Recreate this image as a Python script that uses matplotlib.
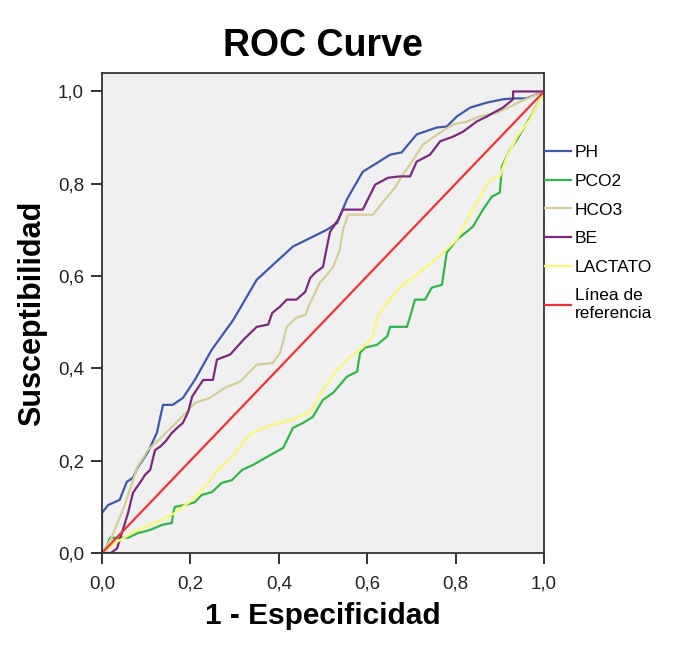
import matplotlib
matplotlib.use("Agg")
from matplotlib import pyplot as plt

# ROC points (1 - specificity, sensitivity)
ph_x = [0.0, 0.0, 0.014, 0.04, 0.056, 0.07, 0.08, 0.104, 0.124, 0.138, 0.16, 0.183, 0.21,
        0.248, 0.297, 0.35, 0.432, 0.508, 0.532, 0.554, 0.59, 0.652, 0.678, 0.712, 0.758,
        0.78, 0.803, 0.833, 0.871, 0.907, 0.93, 0.96, 1.0]
ph_y = [0.0, 0.087, 0.104, 0.115, 0.154, 0.163, 0.184, 0.219, 0.26, 0.321, 0.321, 0.336, 0.375,
        0.44, 0.505, 0.592, 0.664, 0.70, 0.715, 0.766, 0.826, 0.863, 0.868, 0.907, 0.922,
        0.924, 0.946, 0.965, 0.976, 0.983, 0.985, 0.985, 1.0]

pco2_x = [0.0, 0.007, 0.018, 0.059, 0.081, 0.109, 0.136, 0.158, 0.161, 0.165, 0.188, 0.21,
          0.226, 0.249, 0.271, 0.294, 0.317, 0.342, 0.373, 0.41, 0.432, 0.455, 0.477, 0.5,
          0.523, 0.554, 0.577, 0.584, 0.595, 0.622, 0.645, 0.652, 0.69, 0.697, 0.708, 0.731,
          0.746, 0.769, 0.78, 0.803, 0.839, 0.862, 0.882, 0.9, 0.905, 0.923, 0.939, 0.962,
          0.975, 1.0]
pco2_y = [0.0, 0.007, 0.033, 0.033, 0.043, 0.05, 0.061, 0.065, 0.087, 0.1, 0.104, 0.11,
          0.126, 0.132, 0.152, 0.158, 0.18, 0.191, 0.208, 0.228, 0.271, 0.282, 0.295, 0.332,
          0.347, 0.382, 0.393, 0.434, 0.445, 0.451, 0.469, 0.49, 0.49, 0.512, 0.549, 0.549,
          0.575, 0.581, 0.651, 0.679, 0.707, 0.744, 0.772, 0.781, 0.838, 0.874, 0.896, 0.933,
          0.954, 1.0]

hco3_x = [0.0, 0.02, 0.05, 0.08, 0.104, 0.136, 0.181, 0.21, 0.244, 0.278, 0.312, 0.35,
          0.387, 0.403, 0.418, 0.44, 0.46, 0.471, 0.493, 0.509, 0.523, 0.538, 0.545, 0.557,
          0.584, 0.613, 0.636, 0.663, 0.681, 0.704, 0.726, 0.765, 0.794, 0.826, 0.855, 0.894,
          0.923, 0.946, 1.0]
hco3_y = [0.0, 0.03, 0.1, 0.186, 0.223, 0.252, 0.295, 0.325, 0.336, 0.358, 0.371, 0.408,
          0.412, 0.434, 0.49, 0.51, 0.516, 0.542, 0.586, 0.603, 0.62, 0.657, 0.7, 0.733,
          0.733, 0.733, 0.761, 0.792, 0.82, 0.852, 0.885, 0.911, 0.928, 0.935, 0.946, 0.954,
          0.967, 0.978, 1.0]

be_x = [0.0, 0.02, 0.034, 0.052, 0.059, 0.07, 0.079, 0.09, 0.097, 0.109, 0.12, 0.131, 0.143,
        0.158, 0.17, 0.183, 0.195, 0.204, 0.229, 0.251, 0.26, 0.29, 0.32, 0.35, 0.376, 0.385,
        0.403, 0.418, 0.44, 0.46, 0.471, 0.482, 0.5, 0.509, 0.516, 0.534, 0.545, 0.59, 0.618,
        0.647, 0.674, 0.697, 0.712, 0.742, 0.765, 0.794, 0.817, 0.848, 0.871, 0.907, 0.93,
        0.93, 0.984, 1.0]
be_y = [0.0, 0.0, 0.01, 0.065, 0.087, 0.13, 0.143, 0.158, 0.169, 0.18, 0.223, 0.23, 0.241,
        0.26, 0.271, 0.282, 0.306, 0.339, 0.375, 0.375, 0.419, 0.43, 0.462, 0.49, 0.495, 0.52,
        0.534, 0.549, 0.549, 0.566, 0.596, 0.607, 0.62, 0.664, 0.696, 0.722, 0.744, 0.744,
        0.798, 0.813, 0.816, 0.816, 0.848, 0.863, 0.892, 0.902, 0.913, 0.935, 0.946, 0.965,
        0.983, 1.0, 1.0, 1.0]

lact_x = [0.0, 0.03, 0.081, 0.136, 0.165, 0.204, 0.233, 0.262, 0.294, 0.324, 0.342, 0.387,
          0.432, 0.471, 0.5, 0.532, 0.561, 0.59, 0.613, 0.622, 0.645, 0.674, 0.697, 0.735,
          0.772, 0.803, 0.826, 0.848, 0.878, 0.9, 0.916, 0.939, 0.968, 1.0]
lact_y = [0.0, 0.022, 0.05, 0.072, 0.087, 0.115, 0.143, 0.18, 0.208, 0.245, 0.262, 0.278,
          0.289, 0.306, 0.354, 0.397, 0.425, 0.445, 0.469, 0.51, 0.542, 0.575, 0.592, 0.62,
          0.651, 0.679, 0.722, 0.759, 0.809, 0.816, 0.859, 0.902, 0.939, 1.0]

ref_x = [0.0, 1.0]
ref_y = [0.0, 1.0]

series = [
    ("PH", ph_x, ph_y, "#3E58AC"),
    ("PCO2", pco2_x, pco2_y, "#2EB848"),
    ("HCO3", hco3_x, hco3_y, "#D3CE97"),
    ("BE", be_x, be_y, "#7C287D"),
    ("LACTATO", lact_x, lact_y, "#FBF873"),
    ("Línea de\nreferencia", ref_x, ref_y, "#EF3338"),
]
tick_values = [0.0, 0.2, 0.4, 0.6, 0.8, 1.0]
tick_labels = ["0,0", "0,2", "0,4", "0,6", "0,8", "1,0"]

plt.rcParams["font.family"] = ["Liberation Sans", "DejaVu Sans"]

fig = plt.figure(figsize=(6.99, 6.52), dpi=100)
ax = fig.add_axes([102 / 699, 99 / 652, 442 / 699, 480 / 652])
ax.set_facecolor("#F0F0F0")

for label, xs, ys, color in series:
    ax.plot(xs, ys, color=color, linewidth=1.6, label=label)

ax.set_xlim(0, 1)
ax.set_ylim(0, 1.04)
ax.set_xticks(tick_values)
ax.set_xticklabels(tick_labels)
ax.set_yticks(tick_values)
ax.set_yticklabels(tick_labels)
ax.tick_params(direction="out", length=8, width=1.3, labelsize=13.5, pad=5, colors="#222222")
ax.tick_params(axis="x", pad=8)
for spine in ax.spines.values():
    spine.set_linewidth(1.3)
    spine.set_color("#333333")

ax.set_title("ROC Curve", fontsize=27, fontweight="bold", pad=12)
ax.set_xlabel("1 - Especificidad", fontsize=21.5, fontweight="bold", labelpad=7)
ax.set_ylabel("Susceptibilidad", fontsize=22, fontweight="bold", labelpad=8)

ax.legend(loc="upper left", bbox_to_anchor=(1.003, 0.85), frameon=False, fontsize=12.5,
          handlelength=1.5, handletextpad=0.2, labelspacing=0.78, borderaxespad=0.0,
          borderpad=0.0)

plt.savefig("out.png", dpi=100)
